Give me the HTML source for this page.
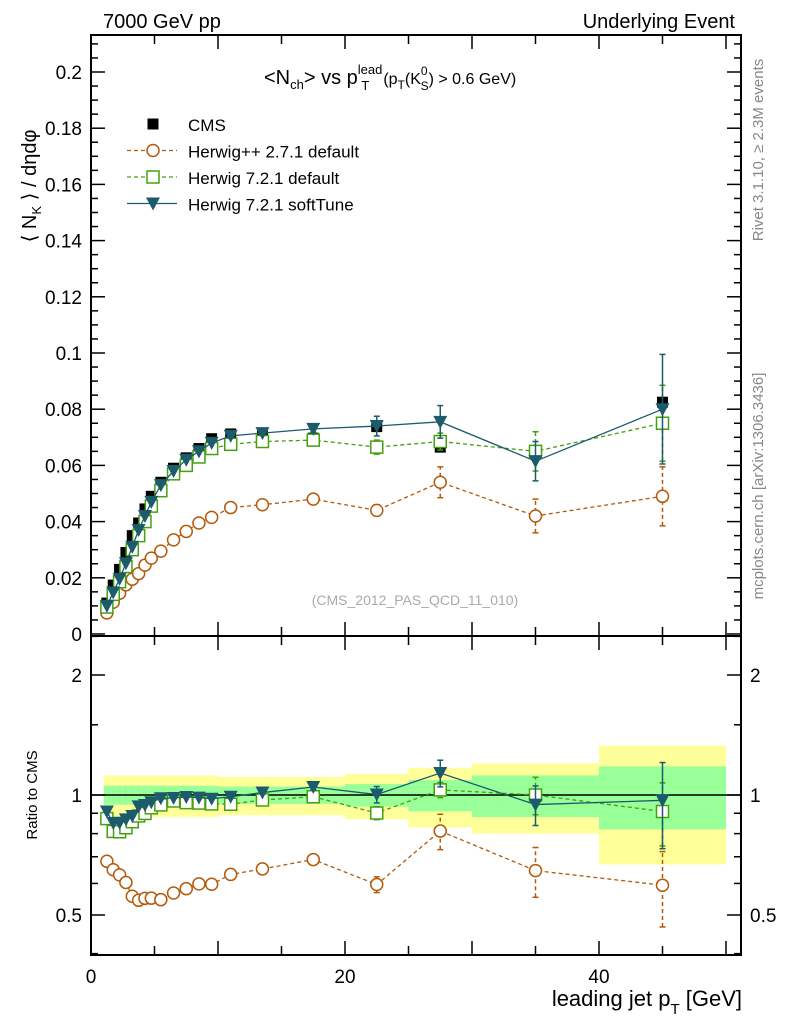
<!DOCTYPE html>
<html><head><meta charset="utf-8"><style>
body{margin:0;background:#fff;}
svg{display:block;font-family:"Liberation Sans",sans-serif;}
</style></head><body>
<svg id="c" width="786" height="1024" xmlns="http://www.w3.org/2000/svg"></svg>
<script>
const binEdges=[1,1.5,2,2.5,3,3.5,4,4.5,5,6,7,8,9,10,12,15,20,25,30,40,50];
const ptCenters=[1.25,1.75,2.25,2.75,3.25,3.75,4.25,4.75,5.5,6.5,7.5,8.5,9.5,11,13.5,17.5,22.5,27.5,35,45];
const cmsVals=[0.011,0.0174,0.023,0.029,0.035,0.0395,0.0445,0.049,0.054,0.059,0.0627,0.066,0.0695,0.0712,0.0705,0.0697,0.0738,0.0665,0.065,0.0825];
const cmsTotErr=[0.12,0.12,0.12,0.12,0.12,0.12,0.12,0.12,0.12,0.12,0.12,0.12,0.12,0.11,0.11,0.11,0.13,0.17,0.2,0.33];
const cmsStatErr=[0.055,0.055,0.055,0.055,0.055,0.055,0.055,0.055,0.055,0.055,0.055,0.055,0.055,0.05,0.05,0.05,0.065,0.09,0.12,0.18];
const hppVals=[0.0075,0.0113,0.0145,0.0175,0.0195,0.0215,0.0245,0.027,0.0295,0.0335,0.0365,0.0395,0.0415,0.045,0.046,0.048,0.044,0.054,0.042,0.049];
const hppErr=[0,0,0,0,0,0,0,0,0,0,0,0,0,0,0,0,0.002,0.0055,0.006,0.0105];
const h721Vals=[0.0096,0.0141,0.0186,0.024,0.03,0.035,0.04,0.0455,0.051,0.057,0.06,0.063,0.066,0.0675,0.0685,0.069,0.0665,0.0685,0.065,0.075];
const h721Err=[0,0,0,0,0,0,0,0,0,0,0,0,0,0,0,0.0015,0.0025,0.003,0.007,0.0135];
const softVals=[0.010,0.0148,0.0196,0.0252,0.031,0.037,0.042,0.047,0.053,0.058,0.062,0.065,0.068,0.0705,0.0715,0.073,0.074,0.0755,0.0615,0.080];
const softErr=[0,0,0,0,0,0,0,0,0,0,0,0,0,0,0,0.0012,0.0035,0.0058,0.007,0.0195];
const mainTicks=[0.02,0.04,0.06,0.08,0.1,0.12,0.14,0.16,0.18,0.2];
const xTicks=[0,20,40];
const ratioTicks=[0.5,1,2];

const L=91,R=741,T=35,MB=636,RB=955;
const X=v=>L+v*12.7;
const Y=v=>634-v*2810;
const RY=r=>795-120*Math.log2(r);
const svg=document.getElementById('c');
const NS='http://www.w3.org/2000/svg';
function mk(tag,at,parent){const e=document.createElementNS(NS,tag);for(const k in at)e.setAttribute(k,at[k]);(parent||svg).appendChild(e);return e;}
function txt(s,x,y,sz,anchor,parent,extra){const e=mk('text',Object.assign({x:x,y:y,'font-size':sz,'text-anchor':anchor||'start'},extra||{}),parent);e.textContent=s;return e;}

const COL={hpp:'#b35a0a',h721:'#44a010',soft:'#1b5b6c'};

const gBand=mk('g',{});


for(let i=0;i<ptCenters.length;i++){
  const x0=X(binEdges[i]),x1=X(binEdges[i+1]);
  const y1=RY(1+cmsTotErr[i]),y2=RY(Math.max(0.41,1-cmsTotErr[i]));
  const r=mk('rect',{x:x0,y:y1,width:x1-x0,height:y2-y1,fill:'#ffff99'},gBand);
  
  
  const g1=RY(1+cmsStatErr[i]),g2=RY(1-cmsStatErr[i]);
  const r2=mk('rect',{x:x0,y:g1,width:x1-x0,height:g2-g1,fill:'#99ff99'},gBand);
  
  
}
mk('line',{x1:L,x2:R,y1:RY(1),y2:RY(1),stroke:'#000','stroke-width':1.5});

const fr=mk('rect',{x:L,y:T,width:R-L,height:MB-T,fill:'none',stroke:'#000','stroke-width':2});

const fr2=mk('rect',{x:L,y:MB,width:R-L,height:RB-MB,fill:'none',stroke:'#000','stroke-width':2});


for(let v=0;v<=0.2125;v+=0.005){
  const y=Y(v);if(y<T||y>MB)continue;
  const major=Math.abs(v/0.02-Math.round(v/0.02))<1e-6;
  const len=major?14:7;
  mk('line',{x1:L,x2:L+len,y1:y,y2:y,stroke:'#000','stroke-width':1.5});
  mk('line',{x1:R,x2:R-len,y1:y,y2:y,stroke:'#000','stroke-width':1.5});
}
mainTicks.forEach(v=>{const t=txt(String(v),82,Y(v)+7,19,'end');});
txt('0',82,641,19,'end');
for(let v=0;v<=51;v+=5){
  const major=v%10===0,len=major?14:9;const x=X(v);
  [[MB,-1],[RB,-1],[T,1],[MB,1]].forEach(([yy,d])=>mk('line',{x1:x,x2:x,y1:yy,y2:yy+d*len,stroke:'#000','stroke-width':1.5}));
}
xTicks.forEach(v=>{const t=txt(String(v),X(v),983,19,'middle');});
[0.4,0.5,0.6,0.7,0.8,0.9,1,1.5,2,2.5].forEach(v=>{
  const y=RY(v);if(y<MB||y>RB)return;const major=ratioTicks.includes(v);const len=major?14:7;
  mk('line',{x1:L,x2:L+len,y1:y,y2:y,stroke:'#000','stroke-width':1.5});
  mk('line',{x1:R,x2:R-len,y1:y,y2:y,stroke:'#000','stroke-width':1.5});
});
ratioTicks.forEach(v=>{
  const a=txt(String(v),82,RY(v)+7,19,'end');
  const b=txt(String(v),750,RY(v)+7,19,'start');
});

function marker(kind,x,y,col,g){
  if(kind==='sq')return mk('rect',{x:x-6,y:y-6,width:12,height:12,fill:'#fff',stroke:col,'stroke-width':1.5},g);
  if(kind==='circ')return mk('circle',{cx:x,cy:y,r:6,fill:'#fff',stroke:col,'stroke-width':1.5},g);
  if(kind==='tri')return mk('path',{d:`M${x-7},${y-6}L${x+7},${y-6}L${x},${y+7}Z`,fill:col},g);
  if(kind==='cms')return mk('rect',{x:x-5.5,y:y-5.5,width:11,height:11,fill:'#000'},g);
}
function series(name,vals,errs,col,kind,dash){
  const g=mk('g',{});
  
  
  const gr=mk('g',{});
  
  
  if(kind!=='cms'){
    const pts=ptCenters.map((c,i)=>X(c)+','+Y(vals[i])).join(' ');
    mk('polyline',{points:pts,fill:'none',stroke:col,'stroke-width':1.3,'stroke-dasharray':dash||'none'},g);
    const rp=ptCenters.map((c,i)=>X(c)+','+RY(vals[i]/cmsVals[i])).join(' ');
    mk('polyline',{points:rp,fill:'none',stroke:col,'stroke-width':1.3,'stroke-dasharray':dash||'none'},gr);
  }
  ptCenters.forEach((c,i)=>{
    const x=X(c),v=vals[i],e=errs[i];
    if(e>0){
      mk('line',{x1:x,x2:x,y1:Y(v-e),y2:Y(v+e),stroke:col,'stroke-width':1.5,'stroke-dasharray':dash||'none'},g);
      [v-e,v+e].forEach(w=>mk('line',{x1:x-3,x2:x+3,y1:Y(w),y2:Y(w),stroke:col,'stroke-width':1.5},g));
      if(kind!=='cms'){
        const r=v/cmsVals[i],re=e/cmsVals[i];
        mk('line',{x1:x,x2:x,y1:RY(Math.max(0.41,r-re)),y2:RY(r+re),stroke:col,'stroke-width':1.5,'stroke-dasharray':dash||'none'},gr);
        [r-re,r+re].forEach(w=>mk('line',{x1:x-3,x2:x+3,y1:RY(w),y2:RY(w),stroke:col,'stroke-width':1.5},gr));
      }
    }
    const m=marker(kind,x,Y(v),col,g);
    
    
    if(kind!=='cms'){const m2=marker(kind,x,RY(v/cmsVals[i]),col,gr);
      
      }
  });
}
series('cms',cmsVals,ptCenters.map(()=>0),'#000','cms');
series('herwigpp-271',hppVals,hppErr,COL.hpp,'circ','4,3');
series('herwig-721-default',h721Vals,h721Err,COL.h721,'sq','4,3');
series('herwig-721-softtune',softVals,softErr,COL.soft,'tri');

const lg=mk('g',{});


const leg=[['CMS','cms','#000',null],['Herwig++ 2.7.1 default','circ',COL.hpp,'4,3'],['Herwig 7.2.1 default','sq',COL.h721,'4,3'],['Herwig 7.2.1 softTune','tri',COL.soft,null]];
leg.forEach((l,i)=>{
  const y=124+i*26.5;
  const e=mk('g',{},lg);
  
  
  if(l[1]!=='cms')mk('line',{x1:127,x2:177,y1:y,y2:y,stroke:l[2],'stroke-width':1.3,'stroke-dasharray':l[3]||'none'},e);
  marker(l[1],153,y,l[2],e);
  txt(l[0],188,y+7,17,'start',e);
});

let t;
t=txt('7000 GeV pp',103,28,20,'start');
t=txt('Underlying Event',735,28,20,'end');
t=mk('text',{x:264,y:84,'font-size':20});

t.innerHTML='&lt;N<tspan font-size="13" dy="5">ch</tspan><tspan dy="-5">&gt; vs p</tspan><tspan font-size="13" dy="-10">lead</tspan><tspan font-size="13" dx="-21" dy="16">T</tspan><tspan font-size="16" dx="14" dy="-6">(p</tspan><tspan font-size="12" dy="5">T</tspan><tspan font-size="16" dy="-5">(K</tspan><tspan font-size="12" dy="-9">0</tspan><tspan font-size="12" dx="-7" dy="15">S</tspan><tspan font-size="16" dy="-6">) &gt; 0.6 GeV)</tspan>';
t=txt('(CMS_2012_PAS_QCD_11_010)',415,605,14,'middle',null,{fill:'#aaa'});
t=mk('text',{x:0,y:0,'font-size':20,transform:'translate(36,186) rotate(-90)','text-anchor':'middle'});

t.innerHTML='⟨ N<tspan font-size="13" dy="5">K</tspan><tspan dy="-5"> ⟩ / dηdφ</tspan>';
t=txt('Ratio to CMS',0,0,15,'middle',null,{transform:'translate(37,795) rotate(-90)'});
t=mk('text',{x:742,y:1006,'font-size':22,'text-anchor':'end'});

t.innerHTML='leading jet p<tspan font-size="15" dy="8">T</tspan><tspan dy="-8"> [GeV]</tspan>';
t=txt('Rivet 3.1.10, ≥ 2.3M events',0,0,15,'middle',null,{transform:'translate(763,150) rotate(-90)',fill:'#888'});
t=txt('mcplots.cern.ch [arXiv:1306.3436]',0,0,15,'middle',null,{transform:'translate(763,486) rotate(-90)',fill:'#888'});
</script>
</body></html>
